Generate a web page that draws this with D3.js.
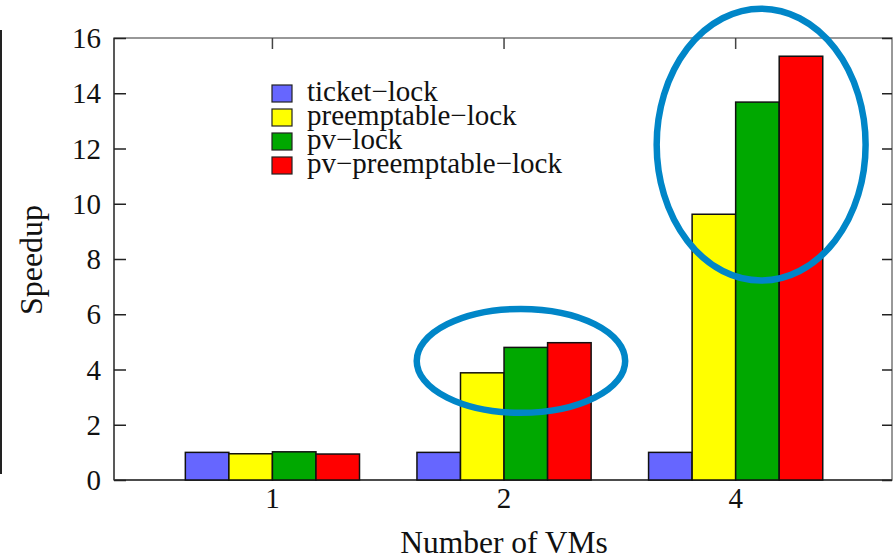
<!DOCTYPE html>
<html>
<head>
<meta charset="utf-8">
<script src="https://cdn.jsdelivr.net/npm/d3@7"></script>
<style>
  html, body { margin: 0; padding: 0; background: #fff; }
  svg { display: block; font-family: "Liberation Serif", "Times New Roman", serif; }
</style>
</head>
<body>
<svg id="chart" width="893" height="560"></svg>
<script>
// Number of VMs on the x axis
const categories = ["1", "2", "4"];
const seriesNames = ["ticket\u2212lock", "preemptable\u2212lock", "pv\u2212lock", "pv\u2212preemptable\u2212lock"];
const seriesColors = ["#6666ff", "#ffff00", "#00a800", "#ff0000"];
// Speedup per series, one value per category
const ticketLock = [1.0, 1.0, 1.0];
const preemptableLock = [0.95, 3.88, 9.62];
const pvLock = [1.02, 4.80, 13.68];
const pvPreemptableLock = [0.94, 4.97, 15.34];
const yTicks = [0, 2, 4, 6, 8, 10, 12, 14, 16];
// Highlight ellipses: centre (category index, speedup) and radii in the same units
const highlights = [
  { cx: 1.073, cy: 4.31, rx: 0.45, ry: 1.88 },
  { cx: 2.11, cy: 12.14, rx: 0.451, ry: 4.92 }
];

const series = [ticketLock, preemptableLock, pvLock, pvPreemptableLock];

const svg = d3.select("#chart");
const plotLeft = 114, plotRight = 892, plotTop = 38, plotBottom = 480;

const x = d3.scaleLinear().domain([-0.684, 2.675]).range([plotLeft, plotRight]);
const y = d3.scaleLinear().domain([0, 16]).range([plotBottom, plotTop]);
const barW = 0.188; // bar width in category units

// outer rule on the far left
svg.append("line").attr("x1", 1).attr("x2", 1).attr("y1", 30).attr("y2", 474)
  .attr("stroke", "#222").attr("stroke-width", 2);

// frame
svg.append("rect").attr("x", plotLeft).attr("y", plotTop)
  .attr("width", plotRight - plotLeft).attr("height", plotBottom - plotTop)
  .attr("fill", "none").attr("stroke", "#777").attr("stroke-width", 1.5);
svg.append("line").attr("x1", plotLeft).attr("x2", plotLeft).attr("y1", plotTop).attr("y2", plotBottom)
  .attr("stroke", "#444").attr("stroke-width", 1.5);
svg.append("line").attr("x1", plotLeft).attr("x2", plotRight).attr("y1", plotBottom).attr("y2", plotBottom)
  .attr("stroke", "#333").attr("stroke-width", 1.5);

// y ticks (left and mirrored right), drawn inward
const yAxisL = d3.axisLeft(y).tickValues(yTicks).tickSize(-12).tickPadding(0).tickFormat("");
const yAxisR = d3.axisRight(y).tickValues(yTicks).tickSize(-10).tickFormat("");
const gl = svg.append("g").attr("transform", `translate(${plotLeft},0)`).call(yAxisL);
const gr = svg.append("g").attr("transform", `translate(${plotRight},0)`).call(yAxisR);
[gl, gr].forEach(g => {
  g.select(".domain").remove();
  g.selectAll(".tick line").attr("stroke", "#222").attr("stroke-width", 1.5);
});

// y tick labels
svg.append("g").selectAll("text").data(yTicks).join("text")
  .attr("x", 101).attr("y", d => y(d) + 10)
  .attr("text-anchor", "end").attr("font-size", 29).attr("fill", "#111")
  .text(d => d);

// x ticks top and bottom, inward
const catIdx = categories.map((c, i) => i);
svg.append("g").selectAll("line").data(catIdx).join("line")
  .attr("x1", d => x(d)).attr("x2", d => x(d)).attr("y1", plotTop).attr("y2", plotTop + 11)
  .attr("stroke", "#444").attr("stroke-width", 1.5);
svg.append("g").selectAll("line").data(catIdx).join("line")
  .attr("x1", d => x(d)).attr("x2", d => x(d)).attr("y1", plotBottom).attr("y2", plotBottom - 11)
  .attr("stroke", "#444").attr("stroke-width", 1.5);

// x tick labels
svg.append("g").selectAll("text").data(categories).join("text")
  .attr("x", (d, i) => x(i)).attr("y", 508)
  .attr("text-anchor", "middle").attr("font-size", 29).attr("fill", "#111")
  .text(d => d);

// bars
series.forEach((vals, s) => {
  svg.append("g").selectAll("rect").data(vals).join("rect")
    .attr("x", (d, i) => x(i - 2 * barW + s * barW))
    .attr("width", x(barW) - x(0))
    .attr("y", d => y(d))
    .attr("height", d => y(0) - y(d))
    .attr("fill", seriesColors[s])
    .attr("stroke", "#111").attr("stroke-width", 1.5);
});

// legend
const lg = svg.append("g").attr("transform", "translate(272,93)");
seriesNames.forEach((name, s) => {
  const row = lg.append("g").attr("transform", `translate(0,${s * 24})`);
  row.append("rect").attr("x", 0).attr("y", -8).attr("width", 20).attr("height", 17)
    .attr("fill", seriesColors[s]).attr("stroke", "#222").attr("stroke-width", 1.2);
  row.append("text").attr("x", 35).attr("y", 8).attr("font-size", 29).attr("fill", "#111")
    .text(name);
});

// axis titles
svg.append("text").attr("x", 504).attr("y", 553).attr("text-anchor", "middle")
  .attr("font-size", 31.5).attr("fill", "#111").text("Number of VMs");
svg.append("text").attr("transform", "translate(42,260) rotate(-90)")
  .attr("text-anchor", "middle").attr("font-size", 32).attr("fill", "#111").text("Speedup");

// highlight ellipses
svg.append("g").selectAll("ellipse").data(highlights).join("ellipse")
  .attr("cx", d => x(d.cx)).attr("cy", d => y(d.cy))
  .attr("rx", d => x(d.rx) - x(0)).attr("ry", d => y(0) - y(d.ry))
  .attr("fill", "none").attr("stroke", "#0086c8").attr("stroke-width", 6.5);
</script>
</body>
</html>
